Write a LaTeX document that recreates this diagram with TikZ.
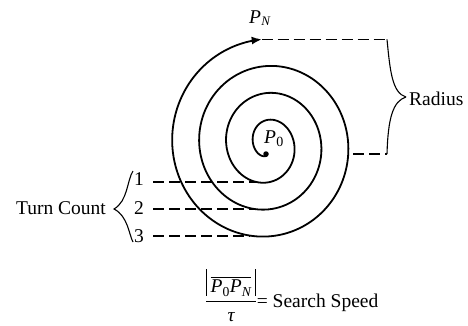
\documentclass[tikz,border=0pt]{standalone}
\usepackage{amsmath}
\usepackage{fontspec}
\setmainfont{Liberation Serif}
\usetikzlibrary{arrows.meta}
\newcommand{\absbar}{\rule[-3pt]{0.8pt}{27pt}}
\begin{document}
\begin{tikzpicture}[x=1pt,y=-1pt,
  spiral/.style={line width=1.8pt, line cap=round},
  guide/.style={line width=1.2pt, dash pattern=on 11pt off 5pt},
  bracestroke/.style={line width=1.1pt},
  lbl/.style={inner sep=0pt, font=\fontsize{19.5}{21}\selectfont}]
\useasboundingbox (0,0) rectangle (468,325);
% spiral
\draw[spiral, -{Latex[length=10pt,width=8pt]}] plot[domain=90:1347, samples=400, smooth, variable=\t]
  ({267+(7+0.075*(\t-90))*cos(\t)}, {144.5+(11+0.075*(\t-90))*sin(\t)});
\node[circle, fill, inner sep=0pt, minimum size=5.5pt] (p0dot) at (266,154) {};
% labels P0 / PN
\node[lbl, anchor=base west] (pnlabel) at (249,23) {\textit{P}\kern0.3pt\raisebox{-2.5pt}{\fontsize{13}{13}\selectfont\textit{N}}};
\node[lbl, anchor=base west] (p0label) at (264,143) {\textit{P}\kern0.3pt\raisebox{-3pt}{\fontsize{14}{14}\selectfont 0}};
% radius
\coordinate (pn) at (261.7,39.4);
\coordinate (rtop) at (387,39.4);
\coordinate (rbotstart) at (353,154);
\coordinate (rbot) at (387,154);
\coordinate (rtip) at (406,97);
\draw[guide] (pn) -- (rtop);
\draw[guide] (rbotstart) -- (rbot);
\draw[bracestroke] (rtop) .. controls (390,70) and (392,93) .. (rtip);
\draw[bracestroke] (rtip) .. controls (393,101) and (388,118) .. (rbot);
\node[lbl, anchor=base west] (radius) at (409,105) {Radius};
% turn count
\node[lbl, anchor=base east] (turn) at (106,214) {Turn Count};
\node[lbl, anchor=base] (n1) at (139,185) {1};
\node[lbl, anchor=base] (n2) at (139,214) {2};
\node[lbl, anchor=base] (n3) at (139,242) {3};
\coordinate (d1s) at (153,182); \coordinate (d1e) at (256,182);
\coordinate (d2s) at (153,209); \coordinate (d2e) at (254,209);
\coordinate (d3s) at (153,236); \coordinate (d3e) at (250,236);
\draw[guide] (d1s) -- (d1e);
\draw[guide] (d2s) -- (d2e);
\draw[guide] (d3s) -- (d3e);
\coordinate (tctop) at (133,171);
\coordinate (tctip) at (114,209);
\coordinate (tcbot) at (133,242);
\draw[bracestroke] (tctop) .. controls (127,180) and (128,201) .. (tctip)
  .. controls (128,216) and (129,235) .. (tcbot);
% formula
\node[lbl, anchor=base west] (formula) at (205,307)
  {$\displaystyle\frac{\absbar\,\overline{\mbox{\itshape P\textsubscript{\upshape 0}P\textsubscript{N}}}\,\absbar}{\mbox{\itshape τ}}$= Search Speed};
\end{tikzpicture}
\end{document}
